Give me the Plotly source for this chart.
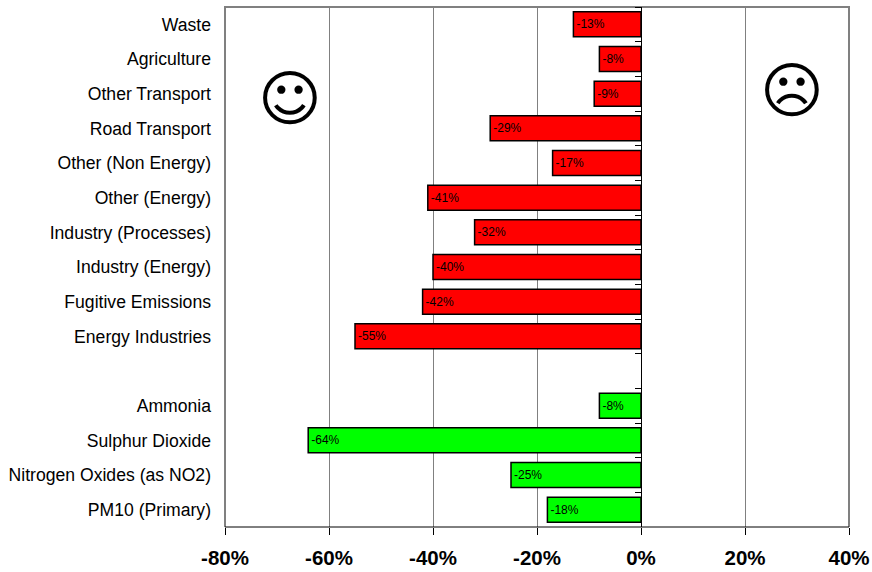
import plotly.graph_objects as go

# Change in emissions, top row to bottom row; the blank row separates the two groups
categories = ["Waste", "Agriculture", "Other Transport", "Road Transport",
              "Other (Non Energy)", "Other (Energy)", "Industry (Processes)",
              "Industry (Energy)", "Fugitive Emissions", "Energy Industries", " ",
              "Ammonia", "Sulphur Dioxide", "Nitrogen Oxides (as NO2)", "PM10 (Primary)"]

ghg_sectors = categories[:10]
ghg_change = [-13, -8, -9, -29, -17, -41, -32, -40, -42, -55]

air_pollutants = categories[11:]
air_change = [-8, -64, -25, -18]

x_ticks = [-80, -60, -40, -20, 0, 20, 40]
x_tick_labels = ["-80%", "-60%", "-40%", "-20%", "0%", "20%", "40%"]

W, H = 872, 572
L, R, T, B = 225, 849, 7, 527
FONT = "Liberation Sans, Arial, sans-serif"


def bars(values, names, colour):
    return go.Bar(
        x=values, y=names, orientation="h", width=0.72,
        marker=dict(color=colour, line=dict(color="black", width=1.5)),
        text=[f"{v}%" for v in values], textposition="inside",
        insidetextanchor="end", textangle=0, constraintext="none",
        textfont=dict(family=FONT, size=12, color="black"),
        hoverinfo="skip", showlegend=False,
    )


fig = go.Figure()
fig.add_trace(bars(ghg_change, ghg_sectors, "#ff0000"))
fig.add_trace(bars(air_change, air_pollutants, "#00ff00"))
# Carries the second y axis, whose ticks sit on the zero line
fig.add_trace(go.Scatter(x=[0], y=[categories[0]], mode="none", yaxis="y2",
                         hoverinfo="skip", showlegend=False))

fig.update_layout(
    width=W, height=H, autosize=False,
    margin=dict(l=L, r=W - R, t=T, b=H - B, pad=0),
    paper_bgcolor="white", plot_bgcolor="white",
    barmode="overlay",
    xaxis=dict(
        range=[-80, 40], tickmode="array", tickvals=x_ticks, ticktext=x_tick_labels,
        tickfont=dict(family=FONT, size=20.5, color="black", weight="bold"),
        ticks="outside", ticklen=7, tickcolor="black", tickwidth=1, ticklabelstandoff=5,
        showgrid=True, gridcolor="#808080", gridwidth=1, zeroline=False,
        showline=False, automargin=False,
    ),
    yaxis=dict(
        type="category", categoryorder="array", categoryarray=categories,
        range=[14.5, -0.5], tickmode="array", tickvals=categories, ticktext=categories,
        tickfont=dict(family=FONT, size=17.6, color="black"),
        ticks="", ticklabelstandoff=13, showgrid=False, zeroline=False,
        showline=False, automargin=False,
    ),
    yaxis2=dict(
        type="category", categoryorder="array", categoryarray=categories,
        range=[14.5, -0.5], overlaying="y", anchor="free", position=2 / 3, side="left",
        tickson="boundaries", ticks="outside", ticklen=6, tickcolor="black", tickwidth=1,
        showticklabels=False, showgrid=False, zeroline=False,
        showline=True, linecolor="black", linewidth=1,
    ),
    shapes=[
        # Gray frame on three sides, black baseline underneath
        dict(type="path", xref="paper", yref="paper", path="M0,0 L0,1 L1,1 L1,0",
             line=dict(color="#808080", width=2), layer="below"),
        dict(type="line", xref="paper", yref="paper", x0=0, x1=1, y0=0, y1=0,
             line=dict(color="black", width=1)),
    ],
    annotations=[
        dict(text="☺", x=(290 - L) / (R - L), y=(B - 98) / (B - T), xref="paper", yref="paper",
             showarrow=False, xanchor="center", yanchor="middle",
             font=dict(family="DejaVu Sans", size=61, color="black")),
        dict(text="☹", x=(792 - L) / (R - L), y=(B - 90) / (B - T), xref="paper", yref="paper",
             showarrow=False, xanchor="center", yanchor="middle",
             font=dict(family="DejaVu Sans", size=61, color="black")),
    ],
)

fig.write_html("out.html")
